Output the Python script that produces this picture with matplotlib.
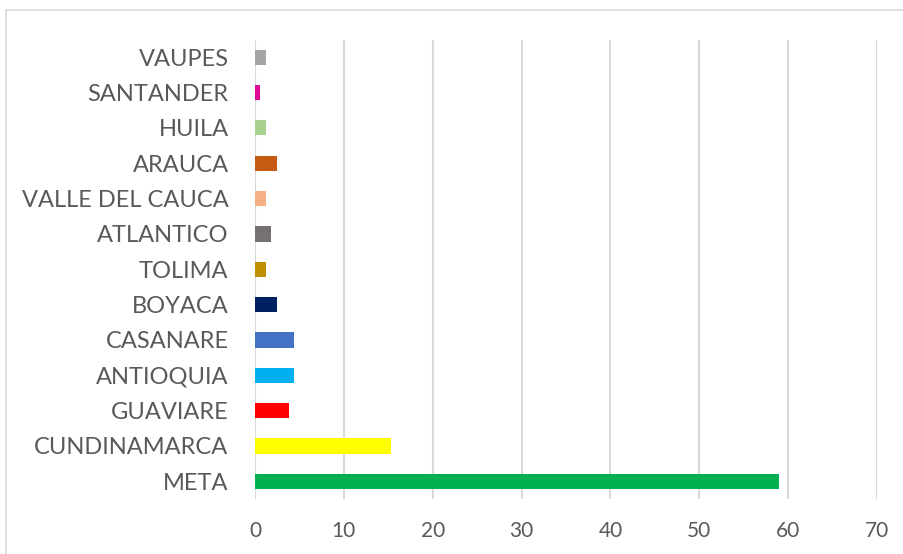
import matplotlib
matplotlib.use("Agg")
import matplotlib.pyplot as plt
from matplotlib.patches import Rectangle

categories = ["META", "CUNDINAMARCA", "GUAVIARE", "ANTIOQUIA", "CASANARE", "BOYACA",
              "TOLIMA", "ATLANTICO", "VALLE DEL CAUCA", "ARAUCA", "HUILA", "SANTANDER", "VAUPES"]
values = [59.0, 15.3, 3.8, 4.4, 4.4, 2.5, 1.25, 1.85, 1.25, 2.5, 1.25, 0.6, 1.25]
colors = ["#00B050", "#FFFF00", "#FF0000", "#00B0F0", "#4472C4", "#002060",
          "#BF9000", "#767171", "#F4B183", "#C55A11", "#A9D18E", "#E00D9B", "#A5A5A5"]
xticks = [0, 10, 20, 30, 40, 50, 60, 70]

plt.rcParams['font.family'] = ['Lato', 'DejaVu Sans']

W, H = 904, 554
fig = plt.figure(figsize=(W/100, H/100), dpi=100)
fig.patch.set_facecolor("white")

# chart border
fig.add_artist(Rectangle((6/W, -0.1), 1.2, (H-10)/H + 0.1, transform=fig.transFigure,
                         fill=False, edgecolor="#D9D9D9", linewidth=1.2))

left, right, top, bottom = 255, 877, 39.5, 499
ax = fig.add_axes([left/W, 1-bottom/H, (right-left)/W, (bottom-top)/H])
y = list(range(len(categories)))
ax.barh(y, values, height=0.43, color=colors, zorder=3)
ax.set_xlim(0, 70)
ax.set_ylim(-0.5, len(categories)-0.5)
ax.set_xticks(xticks)
ax.set_xticklabels([str(t) for t in xticks])
ax.set_yticks(y)
ax.set_yticklabels(categories)
ax.grid(axis="x", color="#D9D9D9", linewidth=1.5, zorder=0)
ax.grid(axis="y", visible=False)
for s in ax.spines.values():
    s.set_visible(False)
ax.tick_params(axis="both", length=0, colors="#595959")
ax.tick_params(axis="y", labelsize=17.0, pad=19)
ax.tick_params(axis="x", labelsize=15, pad=16)

fig.savefig("out.png", dpi=100, facecolor="white")
